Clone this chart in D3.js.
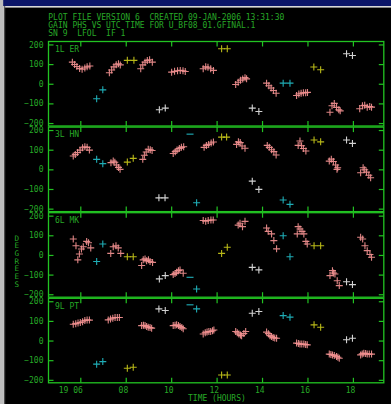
<!DOCTYPE html>
<html>
<head>
<meta charset="utf-8">
<script src="https://cdn.jsdelivr.net/npm/d3@7"></script>
<style>
  html, body { margin: 0; padding: 0; background: #000; }
  svg { display: block; }
</style>
</head>
<body>
<svg id="chart" width="391" height="404"></svg>
<script>
// ---- Gain phase solutions (degrees) versus UTC time (hours), one panel per antenna ----
const titleLines = [
  "PLOT FILE VERSION 6  CREATED 09-JAN-2006 13:31:30",
  "GAIN PHS VS UTC TIME FOR U_BF08_01.GFINAL.1",
  "SN 9  LFOL  IF 1"
];
const antennas = ["1L ER", "3L HN", "6L MK", "9L PT"];
const xTicks = [6, 8, 10, 12, 14, 16, 18];
const xTickLabels = ["19 06", "08", "10", "12", "14", "16", "18"];
const yTicks = [-200, -100, 0, 100, 200];
const xLabel = "TIME (HOURS)";
const yLabel = "DEGREES";

// Antenna ER
const erTarget = [
  [5.65,110],[5.75,98],[5.85,88],[5.97,78],[6.08,74],[6.2,80],[6.3,86],[6.42,90],
  [7.28,56],[7.38,70],[7.48,86],[7.58,97],[7.68,102],[7.76,96],
  [8.66,76],[8.75,96],[8.85,110],[8.95,118],[9.05,122],[9.17,110],
  [10.02,59],[10.15,63],[10.28,66],[10.4,68],[10.52,66],[10.62,62],
  [11.41,76],[11.52,86],[11.62,84],[11.74,76],[11.86,68],
  [12.84,-4],[12.95,8],[13.05,18],[13.15,24],[13.25,31],[13.32,25],
  [14.2,3],[14.3,-10],[14.4,-22],[14.5,-34],[14.62,-48],
  [15.52,-60],[15.62,-52],[15.72,-48],[15.82,-46],[15.92,-46],[16.0,-44],
  [16.99,-145],[17.08,-112],[17.18,-100],[17.28,-120],[17.38,-132],[17.44,-138],
  [18.3,-127],[18.42,-112],[18.52,-110],[18.63,-119],[18.74,-116],[18.82,-119]
];
const erCalA = [[6.72,-76],[6.99,-31],[14.93,3],[15.23,3]];
const erCalB = [[8.07,119],[8.36,119],[12.22,178],[12.47,178],[16.28,85],[16.58,71]];
const erCalC = [[9.48,-132],[9.74,-124],[13.57,-124],[13.86,-141],[17.72,153],[17.98,144]];
const erFlag = [];

// Antenna HN
const hnTarget = [
  [5.69,68],[5.78,76],[5.88,86],[5.99,98],[6.1,110],[6.2,115],[6.3,112],[6.4,98],
  [7.35,34],[7.45,42],[7.52,36],[7.6,22],[7.68,10],[7.75,0],
  [8.75,51],[8.82,72],[8.9,88],[8.99,102],[9.08,100],[9.16,96],
  [10.09,81],[10.18,90],[10.26,98],[10.36,106],[10.45,112],[10.55,115],
  [11.45,112],[11.55,122],[11.65,127],[11.76,134],[11.86,139],
  [12.88,127],[12.96,140],[13.04,136],[13.12,119],[13.25,107],
  [14.23,122],[14.32,112],[14.42,100],[14.52,90],[14.62,73],
  [15.59,122],[15.67,144],[15.74,120],[15.82,106],[15.93,93],
  [16.96,42],[17.05,52],[17.14,40],[17.24,22],[17.33,8],[17.3,0],
  [18.34,-17],[18.45,8],[18.52,-2],[18.6,-14],[18.7,-30],[18.78,-43]
];
const hnCalA = [[6.72,51],[6.99,29],[11.12,-170],[14.93,-156],[15.23,-178]];
const hnCalB = [[8.07,37],[8.33,56],[12.22,164],[12.44,164],[16.29,149],[16.58,140]];
const hnCalC = [[9.46,-145],[9.73,-145],[13.57,-60],[13.86,-102],[17.72,149],[17.98,132]];
const hnFlag = [[10.83,179]];

// Antenna MK
const mkTarget = [
  [5.69,81],[5.81,47],[5.89,-25],[5.96,5],[6.05,30],[6.13,42],[6.28,69],[6.36,62],[6.46,36],
  [7.34,8],[7.45,42],[7.57,47],[7.67,36],[7.78,8],
  [8.7,-54],[8.77,-25],[8.85,-20],[8.92,-29],[9.0,-25],[9.07,-33],[9.18,-38],
  [10.09,-100],[10.17,-94],[10.24,-88],[10.32,-80],[10.39,-76],[10.53,-93],
  [11.41,175],[11.52,172],[11.63,175],[11.75,178],[11.85,178],
  [12.95,152],[13.03,161],[13.14,144],[13.25,171],
  [14.2,137],[14.27,120],[14.42,107],[14.52,73],[14.64,31],
  [15.55,107],[15.59,144],[15.67,132],[15.76,120],[15.84,107],[15.93,69],[15.99,56],
  [16.99,-105],[17.1,-80],[17.15,-92],[17.21,-97],[17.31,-131],[17.4,-156],
  [18.34,90],[18.43,81],[18.53,47],[18.63,22],[18.75,2],[18.82,-12]
];
const mkCalA = [[6.72,-33],[6.99,56],[11.12,-173],[14.93,98],[15.23,-9]];
const mkCalB = [[8.07,-9],[8.33,-9],[12.22,8],[12.47,39],[16.29,47],[16.58,47]];
const mkCalC = [[9.48,-122],[9.74,-105],[13.57,-63],[13.86,-76],[17.72,-136],[17.98,-151]];
const mkFlag = [[10.83,-114]];

// Antenna PT
const ptTarget = [
  [5.69,83],[5.8,86],[5.9,89],[6.0,92],[6.1,96],[6.2,102],[6.3,105],[6.4,104],
  [7.23,105],[7.33,110],[7.43,114],[7.53,117],[7.63,117],[7.72,117],
  [8.7,76],[8.78,78],[8.85,76],[8.92,72],[8.99,68],[9.07,66],[9.14,63],
  [10.09,76],[10.17,78],[10.24,80],[10.32,76],[10.39,71],[10.47,66],[10.53,60],
  [11.41,33],[11.5,40],[11.58,43],[11.66,46],[11.74,46],[11.82,50],[11.88,54],
  [12.84,46],[12.91,40],[12.98,33],[13.05,28],[13.1,25],[13.2,36],[13.28,46],
  [14.2,43],[14.28,35],[14.35,25],[14.42,20],[14.49,15],[14.56,13],[14.64,12],
  [15.52,-13],[15.6,-15],[15.67,-18],[15.75,-18],[15.84,-18],[15.92,-20],[15.99,-22],
  [16.96,-69],[17.03,-71],[17.1,-73],[17.18,-76],[17.28,-81],[17.34,-85],[17.4,-90],
  [18.34,-73],[18.41,-68],[18.48,-64],[18.56,-66],[18.63,-69],[18.72,-69],[18.82,-69]
];
const ptCalA = [[6.72,-120],[6.99,-107],[11.12,161],[14.93,127],[15.23,119]];
const ptCalB = [[8.07,-141],[8.33,-136],[12.22,-175],[12.47,-175],[16.29,80],[16.58,68]];
const ptCalC = [[9.46,161],[9.74,153],[13.57,139],[13.86,148],[17.72,4],[17.98,12]];
const ptFlag = [[10.83,182]];

// ---- styling ----
const frameGreen = "#22c322";
const textGreen = "#27a827";
const monoFont = "'DejaVu Sans Mono', 'Liberation Mono', monospace";
const colTarget = "#f29090";
const colCalA = "#22bcc6";
const colCalB = "#c8c81a";
const colCalC = "#e4e4e4";

const panels = [
  { label: antennas[0], series: [[erTarget, colTarget], [erCalA, colCalA], [erCalB, colCalB], [erCalC, colCalC]], flags: erFlag },
  { label: antennas[1], series: [[hnTarget, colTarget], [hnCalA, colCalA], [hnCalB, colCalB], [hnCalC, colCalC]], flags: hnFlag },
  { label: antennas[2], series: [[mkTarget, colTarget], [mkCalA, colCalA], [mkCalB, colCalB], [mkCalC, colCalC]], flags: mkFlag },
  { label: antennas[3], series: [[ptTarget, colTarget], [ptCalA, colCalA], [ptCalB, colCalB], [ptCalC, colCalC]], flags: ptFlag }
];

const W = 391, H = 404;
const svg = d3.select("#chart");

// window chrome
svg.append("rect").attr("width", W).attr("height", H).attr("fill", "#000");
svg.append("rect").attr("x", 0).attr("y", 0).attr("width", W).attr("height", 6).attr("fill", "#0b1568");
svg.append("rect").attr("x", 4).attr("y", 6).attr("width", W - 4).attr("height", 1.6).attr("fill", "#d8d8d8");
svg.append("rect").attr("x", 0).attr("y", 0).attr("width", 3.2).attr("height", H).attr("fill", "#bdbdbd");
svg.append("rect").attr("x", 3.2).attr("y", 6).attr("width", 1).attr("height", H - 6).attr("fill", "#e8e8e8");
svg.append("rect").attr("x", 4.2).attr("y", 6).attr("width", 1).attr("height", H - 6).attr("fill", "#505050");

// header text
svg.append("g").selectAll("text").data(titleLines).join("text")
  .attr("x", 48.3).attr("y", (d, i) => 20 + i * 8)
  .attr("fill", textGreen).attr("font-family", monoFont).attr("font-size", 8)
  .attr("xml:space", "preserve").style("white-space", "pre")
  .text(d => d);

// scales
const plotLeft = 48.5, plotRight = 383.8;
const x = d3.scaleLinear().domain([4.6, 19.36]).range([plotLeft, plotRight]);
const panelTop0 = 41.5, panelStep = 85.6, panelH = 84.5;
const arm = 3.5;

function styleAxis(g) {
  g.select(".domain").remove();
  g.selectAll(".tick line").attr("stroke", frameGreen).attr("stroke-width", 1.2);
  g.selectAll(".tick text").attr("fill", textGreen).attr("font-family", monoFont).attr("font-size", 8);
}

panels.forEach((p, i) => {
  const top = panelTop0 + i * panelStep;
  const bottom = top + panelH;
  const y = d3.scaleLinear().domain([-215, 215]).range([bottom, top]);
  const g = svg.append("g");

  // frame
  g.append("rect")
    .attr("x", plotLeft).attr("y", top)
    .attr("width", plotRight - plotLeft).attr("height", panelH)
    .attr("fill", "none").attr("stroke", frameGreen).attr("stroke-width", 1.3);

  // axes with inward ticks
  g.append("g").attr("transform", `translate(0,${top})`)
    .call(d3.axisTop(x).tickValues(xTicks).tickSize(-5).tickFormat(""))
    .call(styleAxis);
  const bAxis = g.append("g").attr("transform", `translate(0,${bottom})`)
    .call(d3.axisBottom(x).tickValues(xTicks).tickSize(-5).tickPadding(5)
      .tickFormat((d, k) => i === panels.length - 1 ? xTickLabels[k] : ""))
    .call(styleAxis);
  bAxis.selectAll(".tick text").attr("text-anchor", "end").attr("dx", 2)
    .attr("xml:space", "preserve").style("white-space", "pre");
  g.append("g").attr("transform", `translate(${plotLeft},0)`)
    .call(d3.axisLeft(y).tickValues(yTicks).tickSize(-5).tickPadding(5))
    .call(styleAxis);
  g.append("g").attr("transform", `translate(${plotRight},0)`)
    .call(d3.axisRight(y).tickValues(yTicks).tickSize(-5).tickFormat(""))
    .call(styleAxis);

  // antenna label
  g.append("text").attr("x", 55).attr("y", top + 10.2)
    .attr("fill", textGreen).attr("font-family", monoFont).attr("font-size", 8)
    .text(p.label);

  // solutions drawn as crosses
  p.series.forEach(([pts, col]) => {
    g.append("g").selectAll("path").data(pts).join("path")
      .attr("d", d => {
        const cx = x(d[0]), cy = y(d[1]);
        return `M${cx - arm},${cy}H${cx + arm}M${cx},${cy - arm}V${cy + arm}`;
      })
      .attr("stroke", col).attr("stroke-width", 1.1).attr("fill", "none")
      .attr("opacity", 0.92);
  });

  // flagged points drawn as short dashes
  g.append("g").selectAll("path").data(p.flags).join("path")
    .attr("d", d => {
      const cx = x(d[0]), cy = y(d[1]);
      return `M${cx - arm},${cy}H${cx + arm}`;
    })
    .attr("stroke", colCalA).attr("stroke-width", 1.3).attr("opacity", 0.8);
});

// axis titles
svg.append("text").attr("x", 188).attr("y", 400.5)
  .attr("fill", textGreen).attr("font-family", monoFont).attr("font-size", 8)
  .text(xLabel);
// vertical title: upright letters stacked top to bottom
svg.append("text")
  .attr("x", 16.7).attr("y", 233.5)
  .attr("fill", textGreen).attr("font-family", monoFont).attr("font-size", 7.6)
  .style("writing-mode", "vertical-rl")
  .style("text-orientation", "upright")
  .style("letter-spacing", "-1.32px")
  .text(yLabel);
</script>
</body>
</html>
